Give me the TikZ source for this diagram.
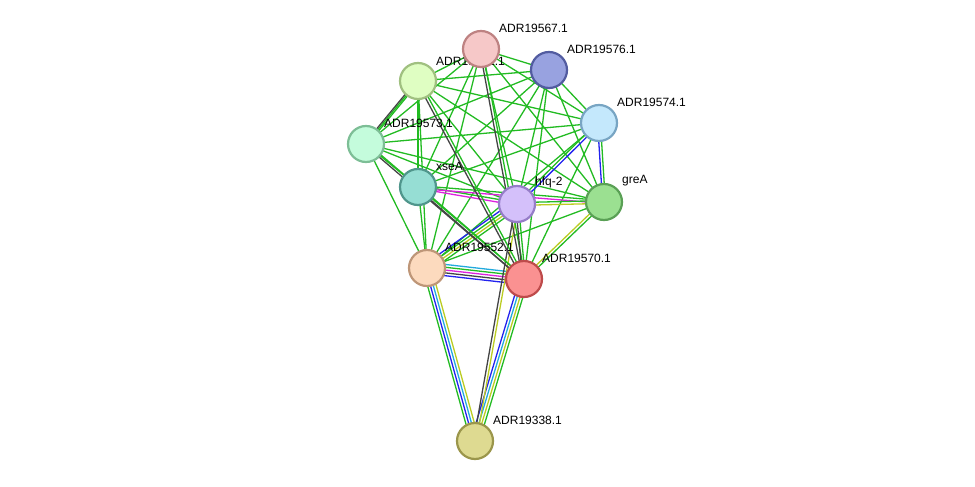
\documentclass[tikz,border=0pt]{standalone}
\usepackage{fontspec}
\setmainfont{Liberation Sans}
\usetikzlibrary{calc}
\definecolor{eg}{HTML}{22BB22}
\definecolor{ed}{HTML}{444444}
\definecolor{eb}{HTML}{2222EE}
\definecolor{em}{HTML}{DD22DD}
\definecolor{ec}{HTML}{22AADD}
\definecolor{ey}{HTML}{BBCC22}
\tikzset{prot/.style={circle,minimum size=36pt,inner sep=0pt,line width=2.2pt},
 lab/.style={font=\fontsize{12}{14}\selectfont,anchor=south west,inner sep=0pt}}
\newcommand{\medge}[3]{%
 \foreach \c [count=\i] in {#3} {\xdef\nn{\i}}%
 \foreach \c [count=\i] in {#3} {%
   \pgfmathsetmacro{\o}{(\i-(\nn+1)/2)*2.8}%
   \draw[\c,line width=1.3pt] ($(#1.center)!\o pt!90:(#2.center)$) -- ($(#2.center)!\o pt!-90:(#1.center)$);}}
\begin{document}
\begin{tikzpicture}[x=1pt,y=-1pt]
\useasboundingbox (0,0) rectangle (975,487);
\coordinate (a67) at (481,49);
\coordinate (a76) at (549,70);
\coordinate (a71) at (418,81);
\coordinate (a74) at (599,123);
\coordinate (a73) at (366,144);
\coordinate (xse) at (418,187);
\coordinate (hfq) at (517,204);
\coordinate (gre) at (604,202);
\coordinate (a52) at (427,268);
\coordinate (a70) at (524,279);
\coordinate (a38) at (475,441);
\foreach \u/\v in {a67/a76,a67/a71,a67/a74,a67/a73,a67/xse,a67/hfq,a67/gre,a67/a52,
 a76/a71,a76/a74,a76/a73,a76/xse,a76/hfq,a76/gre,a76/a52,a76/a70,
 a71/a74,a71/a73,a71/xse,a71/hfq,a71/gre,a71/a52,
 a74/a73,a74/xse,a74/a52,a74/a70,
 a73/xse,a73/hfq,a73/gre,a73/a52,
 xse/a52,gre/a52}
 {\draw[eg,line width=1.3pt] (\u) -- (\v);}
\medge{a52}{a70}{eb,ed,em,eg,ec}
\medge{a52}{a38}{eg,eb,ec,ey}
\medge{a70}{a38}{eb,ec,ey,eg}
\medge{hfq}{a38}{ed,ey}
\medge{hfq}{a52}{eb,eg,ey,eg}
\medge{hfq}{a74}{eb,eg}
\medge{a74}{gre}{eb,eg}
\medge{gre}{a70}{ey,eg}
\medge{xse}{hfq}{em,eg}
\medge{xse}{gre}{em,eg}
\medge{hfq}{gre}{ey,eg}
\medge{xse}{a70}{ed,eg}
\medge{a73}{a70}{ed,eg}
\medge{a71}{a70}{ed,eg}
\medge{a67}{a70}{ed,eg}
\medge{a71}{a73}{ed,eg}
\medge{hfq}{a70}{ed,eg}
\node[lab] (l71) at (436,66) {ADR19571.1};
\node[prot,fill={rgb,255:red,223;green,254;blue,194},draw={rgb,255:red,160;green,192;blue,128}] (n71) at (a71) {};
\node[prot,fill={rgb,255:red,246;green,200;blue,200},draw={rgb,255:red,190;green,130;blue,130}] (n67) at (a67) {};
\node[prot,fill={rgb,255:red,152;green,162;blue,224},draw={rgb,255:red,82;green,92;blue,160}] (n76) at (a76) {};
\node[prot,fill={rgb,255:red,196;green,232;blue,252},draw={rgb,255:red,120;green,165;blue,195}] (n74) at (a74) {};
\node[prot,fill={rgb,255:red,196;green,252;blue,220},draw={rgb,255:red,125;green,190;blue,150}] (n73) at (a73) {};
\node[prot,fill={rgb,255:red,150;green,222;blue,212},draw={rgb,255:red,80;green,150;blue,140}] (nxse) at (xse) {};
\node[prot,fill={rgb,255:red,212;green,192;blue,250},draw={rgb,255:red,150;green,125;blue,200}] (nhfq) at (hfq) {};
\node[prot,fill={rgb,255:red,155;green,224;blue,145},draw={rgb,255:red,90;green,160;blue,85}] (ngre) at (gre) {};
\node[prot,fill={rgb,255:red,252;green,218;blue,190},draw={rgb,255:red,190;green,150;blue,120}] (n52) at (a52) {};
\node[prot,fill={rgb,255:red,250;green,145;blue,145},draw={rgb,255:red,190;green,75;blue,75}] (n70) at (a70) {};
\node[prot,fill={rgb,255:red,222;green,218;blue,145},draw={rgb,255:red,155;green,150;blue,75}] (n38) at (a38) {};
\node[lab] (l67) at (499,33) {ADR19567.1};
\node[lab] (l76) at (567,54) {ADR19576.1};
\node[lab] (l74) at (617,107) {ADR19574.1};
\node[lab] (l73) at (384,128) {ADR19573.1};
\node[lab] (lxse) at (436,171) {xseA};
\node[lab] (lhfq) at (535,188) {hfq-2};
\node[lab] (lgre) at (622,186) {greA};
\node[lab] (l52) at (445,252) {ADR19552.1};
\node[lab] (l70) at (542,263) {ADR19570.1};
\node[lab] (l38) at (493,425) {ADR19338.1};
\end{tikzpicture}
\end{document}
